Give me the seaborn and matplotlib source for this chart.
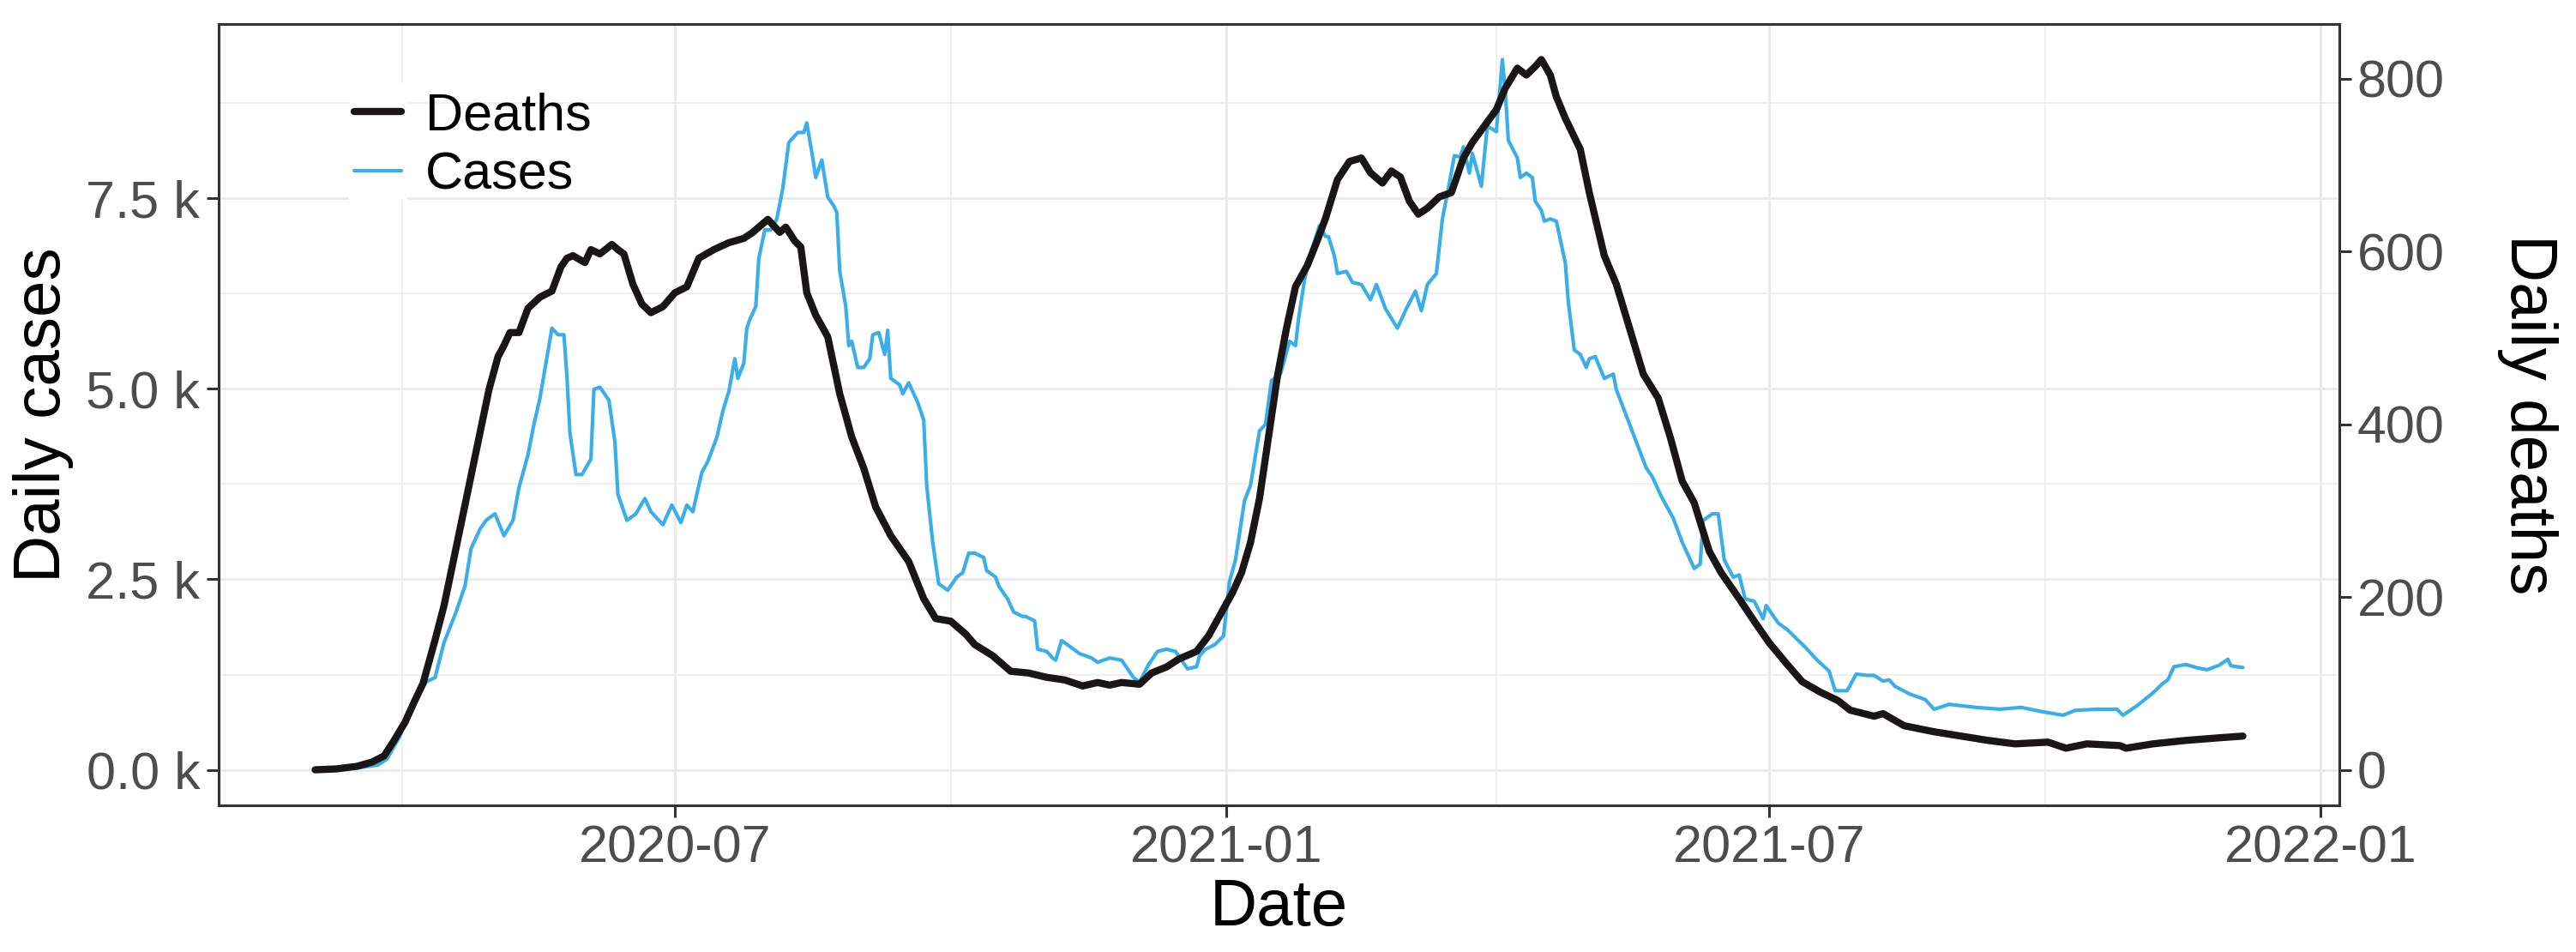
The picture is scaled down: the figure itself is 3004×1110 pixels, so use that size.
import matplotlib
matplotlib.use('Agg')  # Non-interactive backend
import matplotlib.pyplot as plt
import matplotlib.dates as mdates
from matplotlib.ticker import FuncFormatter, MultipleLocator
from matplotlib.patches import Rectangle
import seaborn as sns
import pandas as pd

# Values (7-day style curves)
death_dates = [
    "2020-03-03", "2020-03-10", "2020-03-17", "2020-03-22", "2020-03-26", "2020-03-29",
    "2020-04-02", "2020-04-05", "2020-04-08", "2020-04-12", "2020-04-15", "2020-04-17",
    "2020-04-21", "2020-04-23", "2020-04-27", "2020-04-30", "2020-05-03", "2020-05-05",
    "2020-05-07", "2020-05-10", "2020-05-13", "2020-05-17", "2020-05-21", "2020-05-24",
    "2020-05-26", "2020-05-28", "2020-06-01", "2020-06-03", "2020-06-06", "2020-06-10",
    "2020-06-12", "2020-06-14", "2020-06-17", "2020-06-20", "2020-06-23", "2020-06-27",
    "2020-07-01", "2020-07-05", "2020-07-09", "2020-07-14", "2020-07-19", "2020-07-24",
    "2020-07-27", "2020-08-01", "2020-08-05", "2020-08-07", "2020-08-10", "2020-08-12",
    "2020-08-14", "2020-08-17", "2020-08-21", "2020-08-25", "2020-08-29", "2020-09-02",
    "2020-09-06", "2020-09-11", "2020-09-17", "2020-09-22", "2020-09-26", "2020-10-01",
    "2020-10-06", "2020-10-09", "2020-10-15", "2020-10-21", "2020-10-27", "2020-11-02",
    "2020-11-08", "2020-11-14", "2020-11-19", "2020-11-23", "2020-11-27", "2020-12-03",
    "2020-12-07", "2020-12-12", "2020-12-16", "2020-12-22", "2020-12-26", "2020-12-30",
    "2021-01-03", "2021-01-06", "2021-01-09", "2021-01-12", "2021-01-15", "2021-01-18",
    "2021-01-21", "2021-01-24", "2021-01-28", "2021-01-31", "2021-02-03", "2021-02-07",
    "2021-02-11", "2021-02-15", "2021-02-18", "2021-02-22", "2021-02-25", "2021-02-28",
    "2021-03-03", "2021-03-06", "2021-03-09", "2021-03-13", "2021-03-17", "2021-03-21",
    "2021-03-24", "2021-03-28", "2021-04-01", "2021-04-04", "2021-04-08", "2021-04-11",
    "2021-04-14", "2021-04-16", "2021-04-19", "2021-04-21", "2021-04-24", "2021-04-29",
    "2021-05-02", "2021-05-07", "2021-05-11", "2021-05-15", "2021-05-20", "2021-05-25",
    "2021-05-29", "2021-06-02", "2021-06-06", "2021-06-11", "2021-06-15", "2021-06-21",
    "2021-06-26", "2021-07-01", "2021-07-07", "2021-07-12", "2021-07-18", "2021-07-24",
    "2021-07-28", "2021-08-05", "2021-08-08", "2021-08-15", "2021-08-25", "2021-09-03",
    "2021-09-12", "2021-09-21", "2021-10-02", "2021-10-08", "2021-10-15", "2021-10-26",
    "2021-10-28", "2021-11-06", "2021-11-17", "2021-11-28", "2021-12-06",
]
deaths = [
    0, 1, 4, 9, 16, 32,
    55, 78, 100, 150, 190, 223,
    290, 324, 390, 440, 478, 491,
    506, 506, 534, 547, 554, 582,
    592, 595, 587, 602, 597, 608,
    602, 597, 562, 539, 529, 536,
    552, 559, 592, 602, 610, 615,
    622, 637, 622, 628, 612, 605,
    552, 526, 501, 435, 385, 349,
    304, 271, 241, 198, 175, 172,
    157, 145, 132, 114, 112, 107,
    104, 97, 101, 98, 101, 99,
    112, 119, 128, 137, 155, 180,
    205, 228, 263, 314, 385, 456,
    511, 559, 584, 610, 638, 683,
    704, 708, 691, 679, 693, 686,
    658, 643, 650, 663, 668, 708,
    726, 745, 764, 789, 812, 804,
    814, 822, 804, 779, 754, 718,
    668, 595, 562, 516, 458, 430,
    385, 334, 309, 253, 228, 198,
    172, 147, 122, 102, 90, 80,
    69, 62, 65, 51, 44, 39,
    34, 30, 32, 25, 30, 28,
    25, 30, 34, 37, 39,
]

case_dates = [
    "2020-03-03", "2020-03-13", "2020-03-20", "2020-03-24", "2020-03-27", "2020-03-31",
    "2020-04-03", "2020-04-06", "2020-04-09", "2020-04-12", "2020-04-15", "2020-04-19",
    "2020-04-22", "2020-04-24", "2020-04-27", "2020-04-29", "2020-05-02", "2020-05-05",
    "2020-05-08", "2020-05-10", "2020-05-13", "2020-05-15", "2020-05-17", "2020-05-19",
    "2020-05-21", "2020-05-23", "2020-05-25", "2020-05-26", "2020-05-27", "2020-05-29",
    "2020-05-31", "2020-06-03", "2020-06-04", "2020-06-06", "2020-06-09", "2020-06-11",
    "2020-06-12", "2020-06-15", "2020-06-18", "2020-06-21", "2020-06-23", "2020-06-27",
    "2020-06-30", "2020-07-03", "2020-07-05", "2020-07-07", "2020-07-10", "2020-07-12",
    "2020-07-15", "2020-07-17", "2020-07-19", "2020-07-21", "2020-07-22", "2020-07-24",
    "2020-07-25", "2020-07-26", "2020-07-28", "2020-07-29", "2020-07-31", "2020-08-02",
    "2020-08-04", "2020-08-06", "2020-08-08", "2020-08-11", "2020-08-13", "2020-08-14",
    "2020-08-16", "2020-08-17", "2020-08-19", "2020-08-21", "2020-08-23", "2020-08-24",
    "2020-08-25", "2020-08-27", "2020-08-28", "2020-08-29", "2020-08-31", "2020-09-02",
    "2020-09-04", "2020-09-05", "2020-09-07", "2020-09-09", "2020-09-10", "2020-09-11",
    "2020-09-14", "2020-09-15", "2020-09-17", "2020-09-20", "2020-09-22", "2020-09-23",
    "2020-09-25", "2020-09-27", "2020-09-30", "2020-10-03", "2020-10-05", "2020-10-07",
    "2020-10-09", "2020-10-12", "2020-10-13", "2020-10-16", "2020-10-17", "2020-10-20",
    "2020-10-22", "2020-10-25", "2020-10-26", "2020-10-29", "2020-10-30", "2020-11-02",
    "2020-11-04", "2020-11-05", "2020-11-07", "2020-11-10", "2020-11-13", "2020-11-17",
    "2020-11-19", "2020-11-23", "2020-11-27", "2020-11-29", "2020-12-01", "2020-12-03",
    "2020-12-06", "2020-12-09", "2020-12-12", "2020-12-15", "2020-12-17", "2020-12-19",
    "2020-12-22", "2020-12-23", "2020-12-25", "2020-12-28", "2020-12-31", "2021-01-02",
    "2021-01-04", "2021-01-07", "2021-01-09", "2021-01-12", "2021-01-14", "2021-01-16",
    "2021-01-19", "2021-01-22", "2021-01-24", "2021-01-25", "2021-01-27", "2021-01-29",
    "2021-02-01", "2021-02-03", "2021-02-04", "2021-02-06", "2021-02-07", "2021-02-10",
    "2021-02-12", "2021-02-15", "2021-02-18", "2021-02-20", "2021-02-23", "2021-02-27",
    "2021-03-02", "2021-03-05", "2021-03-07", "2021-03-09", "2021-03-12", "2021-03-14",
    "2021-03-16", "2021-03-18", "2021-03-20", "2021-03-21", "2021-03-23", "2021-03-24",
    "2021-03-27", "2021-03-29", "2021-04-01", "2021-04-03", "2021-04-04", "2021-04-05",
    "2021-04-08", "2021-04-09", "2021-04-11", "2021-04-13", "2021-04-14", "2021-04-16",
    "2021-04-17", "2021-04-19", "2021-04-21", "2021-04-24", "2021-04-25", "2021-04-27",
    "2021-04-29", "2021-05-01", "2021-05-02", "2021-05-04", "2021-05-07", "2021-05-10",
    "2021-05-11", "2021-05-16", "2021-05-21", "2021-05-23", "2021-05-26", "2021-05-30",
    "2021-06-02", "2021-06-06", "2021-06-08", "2021-06-09", "2021-06-12", "2021-06-14",
    "2021-06-16", "2021-06-19", "2021-06-21", "2021-06-23", "2021-06-26", "2021-06-29",
    "2021-06-30", "2021-07-02", "2021-07-04", "2021-07-07", "2021-07-10", "2021-07-13",
    "2021-07-17", "2021-07-21", "2021-07-23", "2021-07-27", "2021-07-30", "2021-08-03",
    "2021-08-05", "2021-08-08", "2021-08-10", "2021-08-12", "2021-08-17", "2021-08-22",
    "2021-08-25", "2021-08-30", "2021-09-08", "2021-09-16", "2021-09-23", "2021-09-30",
    "2021-10-07", "2021-10-11", "2021-10-18", "2021-10-25", "2021-10-27", "2021-11-01",
    "2021-11-06", "2021-11-09", "2021-11-11", "2021-11-13", "2021-11-17", "2021-11-21",
    "2021-11-24", "2021-11-28", "2021-12-01", "2021-12-02", "2021-12-06",
]
cases = [
    0, 10, 40, 64, 143, 420,
    700, 950, 1153, 1210, 1669, 2070,
    2414, 2901, 3159, 3274, 3360, 3073,
    3274, 3704, 4134, 4536, 4880, 5338,
    5797, 5711, 5711, 5166, 4421, 3876,
    3876, 4077, 4994, 5023, 4851, 4306,
    3618, 3274, 3360, 3561, 3389, 3217,
    3475, 3245, 3475, 3389, 3905, 4048,
    4364, 4708, 4966, 5396, 5138, 5338,
    5797, 5912, 6084, 6714, 7087, 7087,
    7231, 7632, 8234, 8366, 8366, 8492,
    8033, 7775, 8005, 7517, 7403, 7317,
    6543, 6084, 5568, 5625, 5281, 5281,
    5396, 5711, 5740, 5453, 5768, 5138,
    5052, 4937, 5080, 4822, 4593, 3733,
    2987, 2443, 2357, 2529, 2586, 2844,
    2844, 2787, 2615, 2529, 2414, 2242,
    2070, 2013, 2013, 1955, 1583, 1554,
    1468, 1439, 1697, 1611, 1525, 1468,
    1411, 1468, 1439, 1325, 1210, 1153,
    1382, 1554, 1583, 1554, 1439, 1325,
    1353, 1497, 1583, 1640, 1755, 2471,
    2758, 3532, 3733, 4450, 4536, 5109,
    5195, 5625, 5568, 5912, 6428, 6772,
    7145, 7001, 7001, 6743, 6514, 6543,
    6399, 6370, 6170, 6370, 6055, 5797,
    6055, 6284, 6026, 6370, 6514, 7231,
    7632, 8062, 8045, 8177, 7833, 8091,
    7661, 8450, 8377, 9324, 8893, 8263,
    8033, 7775, 7833, 7775, 7460, 7345,
    7202, 7231, 7202, 6657, 6141, 5510,
    5453, 5281, 5396, 5424, 5138, 5195,
    4994, 4478, 3962, 3848, 3590, 3303,
    2987, 2643, 2701, 3274, 3360, 3360,
    2758, 2529, 2557, 2242, 2213, 1984,
    2156, 2041, 1927, 1841, 1726, 1611,
    1439, 1296, 1038, 1038, 1256, 1239,
    1239, 1164, 1181, 1095, 992, 923,
    795, 859, 819, 795, 819, 763,
    716, 779, 795, 795, 716, 850,
    1009, 1124, 1181, 1353, 1382, 1336,
    1313, 1370, 1451, 1365, 1342,
]

death_df = pd.DataFrame({"date": pd.to_datetime(death_dates), "value": deaths})
case_df = pd.DataFrame({"date": pd.to_datetime(case_dates), "value": cases})

sns.set_theme(style="whitegrid")
plt.rcParams['font.family'] = ['Liberation Sans', 'DejaVu Sans']

DEATH_COL = '#1a1616'
CASE_COL = '#3aaeea'
BORDER = '#333333'
GRID = '#ebebeb'

# secondary axis scale: peaks line up
coeff = max(cases) / max(deaths)

fig = plt.figure(figsize=(15.02, 5.55), dpi=200)
ax = fig.add_axes([0.0849, 0.1541, 0.8232, 0.8207])
ax.set_facecolor('white')
ax2 = ax.twinx()

sns.lineplot(data=case_df, x="date", y="value", ax=ax, color=CASE_COL,
             linewidth=1.5, zorder=3, legend=False)
sns.lineplot(data=death_df, x="date", y="value", ax=ax2, color=DEATH_COL,
             linewidth=3.0, zorder=3, legend=False)

# ggplot style 5% expansion
ymin, ymax = 0, max(max(cases), max(deaths) * coeff)
ypad = 0.05 * (ymax - ymin)
ax.set_ylim(ymin - ypad, ymax + ypad)
ax2.set_ylim((ymin - ypad) / coeff, (ymax + ypad) / coeff)
xmin, xmax = case_df["date"].min(), case_df["date"].max()
xpad = 0.05 * (xmax - xmin)
ax.set_xlim(xmin - xpad, xmax + xpad)

# ticks and grid
ax.xaxis.set_major_locator(mdates.MonthLocator(bymonth=[1, 7]))
ax.xaxis.set_minor_locator(mdates.MonthLocator(bymonth=[4, 10]))
ax.xaxis.set_major_formatter(mdates.DateFormatter('%Y-%m'))
ax.yaxis.set_major_locator(MultipleLocator(2500))
ax.yaxis.set_minor_locator(MultipleLocator(1250))
ax.yaxis.set_major_formatter(FuncFormatter(lambda v, p: f"{v / 1000:.1f} k"))
ax2.yaxis.set_major_locator(MultipleLocator(200))

ax.set_axisbelow(True)
ax.grid(which='major', color=GRID, linewidth=1.1)
ax.grid(which='minor', color=GRID, linewidth=0.55)
ax2.grid(False)

for a in (ax, ax2):
    for s in a.spines.values():
        s.set_color(BORDER)
        s.set_linewidth(1.1)
    a.tick_params(which='major', length=5, width=1.1, color=BORDER,
                  labelcolor='#4d4d4d', labelsize=22)
    a.tick_params(which='minor', length=0)
ax.tick_params(axis='x', pad=3, bottom=True)
ax.tick_params(axis='y', pad=2.8, left=True)
ax2.tick_params(axis='y', pad=2.5, right=True)

ax.set_xlabel('Date', fontsize=27.5, color='black', labelpad=2)
ax.set_ylabel('Daily cases', fontsize=27.5, color='black', labelpad=5)
ax2.set_ylabel('Daily deaths', fontsize=27.5, color='black', rotation=-90,
               va='bottom', labelpad=22)

# legend keys sit on white boxes, text sits on the grid
ax.add_patch(Rectangle((0.0613, 0.775), 0.0277, 0.1496, transform=ax.transAxes,
                       facecolor='white', edgecolor='none', zorder=1))
handles = [ax2.lines[0], ax.lines[0]]
leg = ax2.legend(handles, ['Deaths', 'Cases'], loc='upper left',
                 bbox_to_anchor=(0.064, 0.9126), frameon=False, borderpad=0,
                 handlelength=0.9, handletextpad=0.45, labelspacing=0.2,
                 fontsize=22, borderaxespad=0, labelcolor='black')

fig.savefig('out.png', dpi=200, facecolor='white')
